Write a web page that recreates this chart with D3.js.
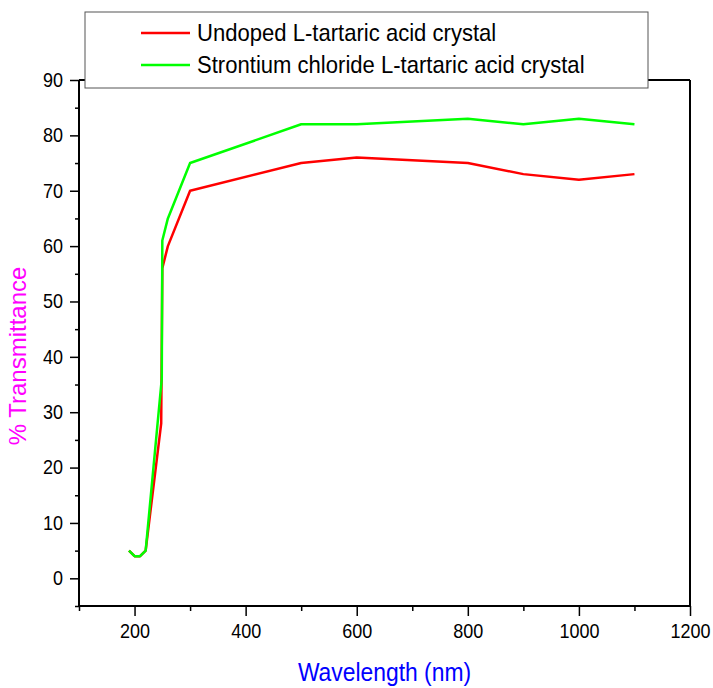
<!DOCTYPE html>
<html>
<head>
<meta charset="utf-8">
<style>
body { margin: 0; background: #fff; }
text { font-family: "Liberation Sans Narrow", "Arial Narrow", "Liberation Sans", sans-serif; }
</style>
</head>
<body>
<div id="chart"></div>
<script src="https://d3js.org/d3.v7.min.js"></script>
<script>

// wavelength (nm) and % transmittance
var undopedWl = [190, 200, 210, 220, 248, 250, 260, 300, 500, 600, 800, 900, 1000, 1100];
var undopedT  = [5,   4,   4,   5,   28,  56,  60,  70,  75,  76,  75,  73,  72,   73];
var srWl = [190, 200, 210, 220, 249, 250, 260, 300, 500, 600, 800, 900, 1000, 1100];
var srT  = [5,   4,   4,   5,   36,  61,  65,  75,  82,  82,  83,  82,  83,   82];
var seriesNames = ["Undoped L-tartaric acid crystal", "Strontium chloride L-tartaric acid crystal"];
var seriesColors = ["#ff0000", "#00ff00"];
var xTicks = [200, 400, 600, 800, 1000, 1200];
var xMinor = [100, 300, 500, 700, 900, 1100];
var yTicks = [0, 10, 20, 30, 40, 50, 60, 70, 80, 90];
var yMinor = [-5, 5, 15, 25, 35, 45, 55, 65, 75, 85];

var W = 713, H = 688;
var plotL = 79, plotR = 690, plotT = 80, plotB = 606;
var squeeze = 0.9; // narrow look of the original font

var svg = d3.select("#chart").append("svg")
    .attr("width", W)
    .attr("height", H);

var x = d3.scaleLinear().domain([100, 1200]).range([plotL, plotR]);
var y = d3.scaleLinear().domain([-5, 90]).range([plotB, plotT]);

// frame top + right
svg.append("line").attr("x1", plotL).attr("x2", plotR).attr("y1", plotT).attr("y2", plotT)
   .attr("stroke", "#000").attr("stroke-width", 2);
svg.append("line").attr("x1", plotR).attr("x2", plotR).attr("y1", plotT).attr("y2", plotB)
   .attr("stroke", "#000").attr("stroke-width", 2);

// minor ticks
svg.append("g")
    .attr("transform", "translate(0," + plotB + ")")
    .call(d3.axisBottom(x).tickValues(xMinor).tickSize(5).tickFormat(""));
svg.append("g")
    .attr("transform", "translate(" + plotL + ",0)")
    .call(d3.axisLeft(y).tickValues(yMinor).tickSize(4).tickFormat(""));

// major ticks
var xAxis = svg.append("g")
    .attr("transform", "translate(0," + plotB + ")")
    .call(d3.axisBottom(x).tickValues(xTicks).tickSize(10).tickPadding(8).tickFormat(d3.format("d")));

var yAxis = svg.append("g")
    .attr("transform", "translate(" + plotL + ",0)")
    .call(d3.axisLeft(y).tickValues(yTicks).tickSize(9).tickPadding(7).tickFormat(d3.format("d")));

svg.selectAll(".domain").remove();
svg.selectAll(".tick line").attr("stroke-width", 1.5);
svg.selectAll(".tick text")
   .style("font-size", "20px")
   .attr("fill", "#000")
   .attr("x", function() { return +d3.select(this).attr("x") / squeeze; })
   .attr("transform", "scale(" + squeeze + ",1)");

svg.append("line").attr("x1", plotL).attr("x2", plotR + 1).attr("y1", plotB).attr("y2", plotB)
   .attr("stroke", "#000").attr("stroke-width", 2);
svg.append("line").attr("x1", plotL).attr("x2", plotL).attr("y1", plotT).attr("y2", plotB + 1)
   .attr("stroke", "#000").attr("stroke-width", 2);

// lines
var line = d3.line()
    .x(function(d) { return x(d[0]); })
    .y(function(d) { return y(d[1]); });

var series = [d3.zip(undopedWl, undopedT), d3.zip(srWl, srT)];
series.forEach(function(s, i) {
  svg.append("path")
     .datum(s)
     .attr("d", line)
     .attr("fill", "none")
     .attr("stroke", seriesColors[i])
     .attr("stroke-width", 2.5)
     .attr("stroke-linejoin", "round");
});

// legend
svg.append("rect")
   .attr("x", 85).attr("y", 12).attr("width", 563).attr("height", 76)
   .attr("fill", "#fff").attr("stroke", "#555").attr("stroke-width", 1);

seriesNames.forEach(function(name, i) {
  var ly = 33 + i * 32;
  svg.append("line")
     .attr("x1", 141).attr("x2", 190).attr("y1", ly).attr("y2", ly)
     .attr("stroke", seriesColors[i]).attr("stroke-width", 2.5);
  svg.append("text")
     .attr("transform", "translate(197," + (ly + 8) + ") scale(0.92,1)")
     .style("font-size", "24px")
     .text(name);
});

// axis titles
svg.append("text")
   .attr("transform", "translate(" + ((plotL + plotR) / 2) + ",681) scale(0.88,1)")
   .attr("text-anchor", "middle")
   .attr("fill", "#0000ff")
   .style("font-size", "26px")
   .text("Wavelength (nm)");

svg.append("text")
   .attr("transform", "translate(26,356) rotate(-90)")
   .attr("text-anchor", "middle")
   .attr("fill", "#ff00ff")
   .style("font-size", "24px")
   .text("% Transmittance");

</script>
</body>
</html>
